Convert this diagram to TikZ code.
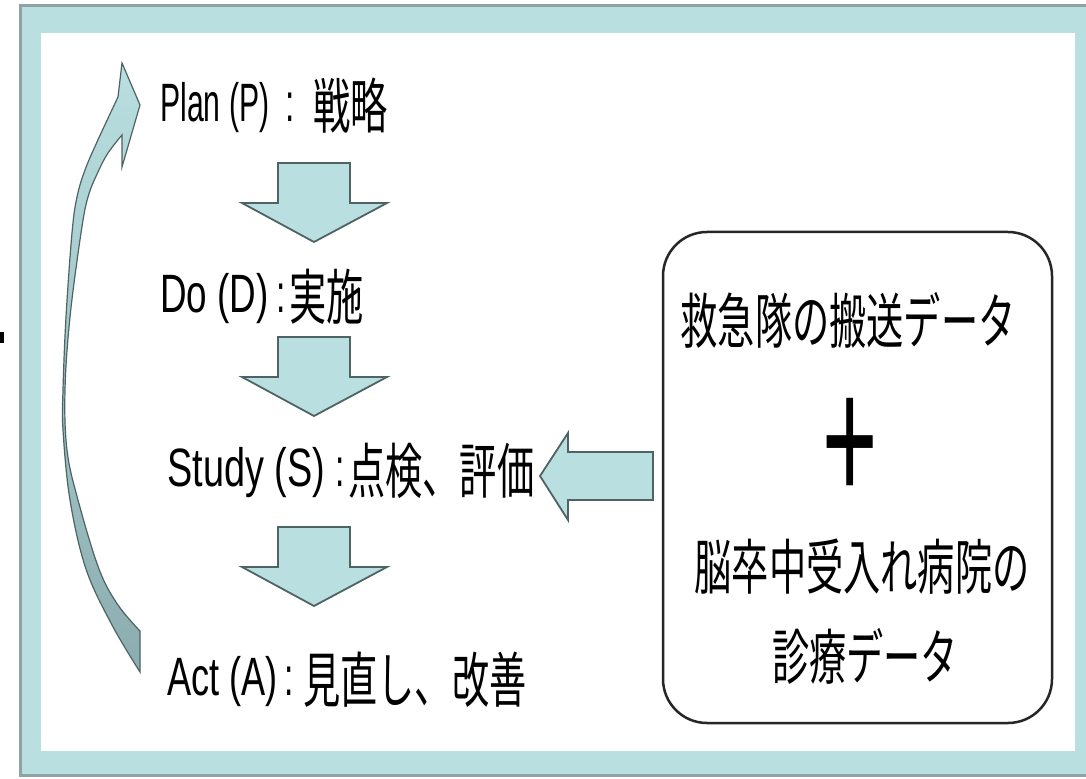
\documentclass[tikz,border=0pt]{standalone}
\usepackage{fontspec}
\usepackage{graphicx}
\newfontfamily\lat[FakeStretch=0.62]{Liberation Sans}
\newfontfamily\plainsans{Liberation Sans}
\newfontfamily\cjk[FakeStretch=0.62,Scale=1.111]{Noto Sans CJK JP}
\definecolor{tealfill}{HTML}{B9DFE1}
\definecolor{frameedge}{HTML}{8FA3A4}
\definecolor{arrowedge}{HTML}{4F6364}
\definecolor{tealdark}{HTML}{8CADAF}
\tikzset{
  lbl/.style={anchor=base west, inner sep=0pt, font=\fontsize{27}{32}\selectfont\lat},
  boxtxt/.style={anchor=base, inner sep=0pt, font=\fontsize{27}{32}\selectfont\cjk},
  databox/.style={draw=black!85, line width=1.25pt, rounded corners=22pt, minimum width=194.5pt, minimum height=245.5pt, inner sep=0pt},
  blockarrow/.style={fill=tealfill, draw=arrowedge, line width=0.9pt, line join=miter},
  curvearrow/.style={draw=arrowedge, line width=0.6pt, top color=tealfill, bottom color=tealdark},
  downarrow/.pic={\filldraw[blockarrow] (-36,-40) -- (36,-40) -- (36,0) -- (73,0) -- (0,39) -- (-72,0) -- (-36,0) -- cycle;}
}
\begin{document}
\begin{tikzpicture}[x=0.5pt,y=-0.5pt]
\useasboundingbox (0,0) rectangle (1086,779);
\clip (0,0) rectangle (1086,779);
% frame
\fill[tealfill] (19,4) rectangle (1100,777);
\draw[frameedge, line width=1.5pt] (1100,5.5) -- (20,5.5) -- (20,775.5) -- (1100,775.5);
\fill[white] (41,33) rectangle (1075,751);
% small cut-off mark at far left
\fill[black] (0,332) rectangle (4,343);
% labels
\node[lbl] (plan) at (160,122) {\makebox[62.5pt][l]{\scalebox{0.9}[1]{Plan (P)}}\makebox[14pt][l]{:}\raisebox{-3.5pt}{\cjk 戦略}};
\node[lbl] (do) at (160,313) {\makebox[58pt][l]{\scalebox{1.1}[1]{Do (D)}}\makebox[6.5pt][l]{:}\raisebox{-3.5pt}{\cjk 実施}};
\node[lbl] (study) at (167,487) {\makebox[84pt][l]{\scalebox{1.13}[1]{Study (S)}}\makebox[6.5pt][l]{:}\raisebox{-3.5pt}{\cjk 点検、評価}};
\node[lbl] (act) at (167,695) {\makebox[58.5pt][l]{\scalebox{1.08}[1]{Act (A)}}\makebox[9.5pt][l]{:}\raisebox{-3.5pt}{\cjk 見直し、改善}};
% down arrows
\pic at (314,203) {downarrow};
\pic at (314,377) {downarrow};
\pic at (314,567) {downarrow};
% curved arrow from Act back to Plan
\path[curvearrow] (122,63) -- (140,105) -- (122,167) -- (122,135)
  -- plot[smooth, tension=0.6] coordinates {(122,135) (108,153) (98,172) (88,197) (81,233) (70,317) (65,390) (67,450) (78,500) (99,569) (118,605) (140,631)}
  -- (140,672)
  -- plot[smooth, tension=0.6] coordinates {(140,672) (112,625) (86,569) (70,500) (63,430) (63,390) (66,317) (72,233) (77,197) (85,170) (97,142) (118,97)}
  -- cycle;
% data box
\node[databox] (data) at (857.5,477.5) {};
\node[boxtxt] (t1) at (848,344) {救急隊の搬送データ};
\node[inner sep=0pt] (plus) at (850,450) {\scalebox{0.79}[1.49]{\fontsize{60}{60}\selectfont\plainsans +}};
\node[boxtxt] (t2) at (862,590) {脳卒中受入れ病院の};
\node[boxtxt] (t3) at (865,679) {診療データ};
% arrow from data box to Study
\filldraw[blockarrow] (540,476) -- (568,433) -- (568,452) -- (653,452) -- (653,500) -- (568,500) -- (568,520) -- cycle;
\end{tikzpicture}
\end{document}
